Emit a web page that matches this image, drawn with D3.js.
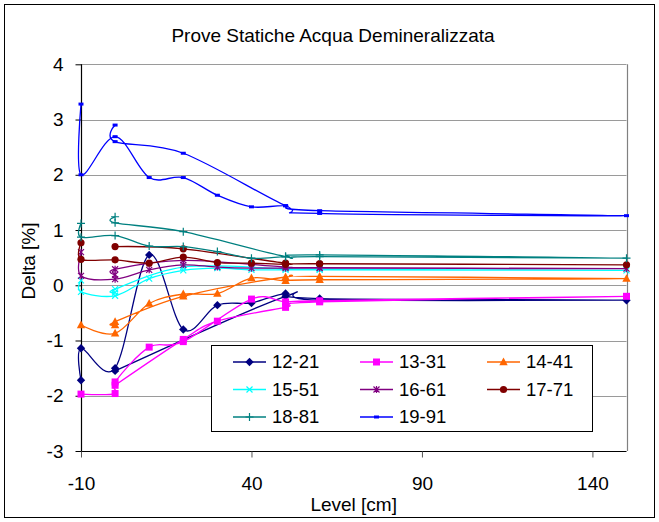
<!DOCTYPE html>
<html><head><meta charset="utf-8">
<script src="https://cdn.jsdelivr.net/npm/d3@7"></script>
<style>
body{margin:0;background:#fff}
svg{display:block}
text{font-family:"Liberation Sans",Arial,sans-serif;fill:#000}
</style>
</head><body>
<svg id="chart" width="659" height="522"></svg>
<script>
// ---------- data ----------
const chartTitle = "Prove Statiche Acqua Demineralizzata";
const xTitle = "Level [cm]";
const yTitle = "Delta [%]";
const xTicks = [-10, 40, 90, 140];
const yTicks = [-3, -2, -1, 0, 1, 2, 3, 4];
const seriesNames = ["12-21", "13-31", "14-41", "15-51", "16-61", "17-71", "18-81", "19-91"];

const level_1221 = [-10, -10, 0, 10, 20, 30, 40, 50, 60, 150, 60, 50, 0];
const delta_1221 = [-1.72, -1.14, -1.5, 0.55, -0.8, -0.36, -0.32, -0.15, -0.24, -0.27, -0.27, -0.2, -1.55];

const level_1331 = [-10, 0, 0, 10, 20, 40, 50, 60, 150, 60, 50, 30, 20, 0];
const delta_1331 = [-1.97, -1.96, -1.75, -1.12, -1.02, -0.25, -0.3, -0.28, -0.2, -0.3, -0.4, -0.65, -0.98, -1.81];

const level_1441 = [-10, 0, 10, 20, 30, 40, 50, 60, 150, 60, 50, 20, 0, 0];
const delta_1441 = [-0.72, -0.87, -0.33, -0.16, -0.15, 0.13, 0.08, 0.1, 0.12, 0.16, 0.15, -0.2, -0.66, -0.72];

const level_1551 = [-10, -10, 0, 10, 20, 30, 40, 50, 60, 150, 60, 50, 20, 0, 0];
const delta_1551 = [0.09, -0.12, -0.19, 0.12, 0.27, 0.31, 0.28, 0.28, 0.28, 0.27, 0.29, 0.3, 0.33, -0.07, -0.13];

const level_1661 = [-10, -10, 0, 10, 20, 30, 40, 50, 60, 150, 60, 50, 20, 0, 0];
const delta_1661 = [0.6, 0.17, 0.11, 0.28, 0.37, 0.33, 0.31, 0.31, 0.31, 0.3, 0.32, 0.33, 0.45, 0.29, 0.19];

const level_1771 = [-10, -10, 0, 10, 20, 30, 40, 50, 60, 150, 60, 50, 20, 0];
const delta_1771 = [0.77, 0.47, 0.46, 0.4, 0.51, 0.41, 0.4, 0.38, 0.39, 0.37, 0.39, 0.4, 0.66, 0.7];

const level_1881 = [-10, -10, 0, 10, 20, 30, 40, 50, 60, 150, 60, 50, 20, 0, 0];
const delta_1881 = [1.12, 0.87, 0.9, 0.71, 0.7, 0.61, 0.49, 0.52, 0.55, 0.49, 0.52, 0.52, 0.97, 1.13, 1.24];

const level_1991 = [-10, -10, 0, 10, 20, 30, 40, 50, 60, 150, 60, 50, 20, 0, 0];
const delta_1991 = [3.28, 2.0, 2.69, 1.95, 1.95, 1.63, 1.42, 1.44, 1.35, 1.26, 1.3, 1.44, 2.39, 2.6, 2.9];

const seriesLevels = [level_1221, level_1331, level_1441, level_1551, level_1661, level_1771, level_1881, level_1991];
const seriesDeltas = [delta_1221, delta_1331, delta_1441, delta_1551, delta_1661, delta_1771, delta_1881, delta_1991];
const seriesColors = ["#000080", "#FF00FF", "#FF6600", "#00FFFF", "#800080", "#800000", "#008080", "#0000FF"];
const seriesMarkers = ["diamond", "square", "triangle", "cross", "star", "circle", "plus", "dash"];

// ---------- layout ----------
const svg = d3.select("#chart");
const x = d3.scaleLinear().domain([-10, 150]).range([81, 626.5]);
const y = d3.scaleLinear().domain([-3, 4]).range([451, 64.3]);
const FONT = 19;

svg.append("rect").attr("x", 4.5).attr("y", 4.5).attr("width", 650).attr("height", 513)
  .attr("fill", "#fff").attr("stroke", "#000").attr("stroke-width", 1);

// gridlines
svg.append("g").selectAll("line").data(yTicks.filter(v => v > -3)).join("line")
  .attr("x1", x(-10)).attr("x2", x(150))
  .attr("y1", d => Math.round(y(d)) + 0.5).attr("y2", d => Math.round(y(d)) + 0.5)
  .attr("stroke", "#9a9a9a").attr("stroke-width", 1.2);
// right border
svg.append("line").attr("x1", Math.round(x(150)) + 0.5).attr("x2", Math.round(x(150)) + 0.5)
  .attr("y1", y(4)).attr("y2", y(-3)).attr("stroke", "#808080").attr("stroke-width", 1.2);

// axes
const fmt = d => String(d);
const yAxis = d3.axisLeft(y).tickValues(yTicks).tickSize(6).tickPadding(12).tickFormat(fmt);
const gy = svg.append("g").attr("transform", `translate(${Math.round(x(-10)) + 0.5},0)`).call(yAxis);
const xAxis = d3.axisBottom(x).tickValues(xTicks).tickSize(6).tickPadding(19).tickFormat(fmt);
const gx = svg.append("g").attr("transform", `translate(0,${Math.round(y(-3)) + 0.5})`).call(xAxis);
[gx, gy].forEach(g => {
  g.select(".domain").attr("stroke", "#000").attr("stroke-width", 1.2);
  g.selectAll(".tick line").attr("stroke", "#000");
  g.selectAll(".tick text").attr("font-size", FONT).attr("font-family", '"Liberation Sans",Arial,sans-serif').attr("fill", "#000");
});
gx.selectAll(".tick line").attr("stroke", "#555");
gx.select(".domain").attr("d", `M${x(-10)},0H${x(150)}`);
gy.select(".domain").attr("d", `M0,${y(4)}V${y(-3)}`);

// titles
svg.append("text").attr("x", 333).attr("y", 42).attr("text-anchor", "middle").attr("font-size", FONT).text(chartTitle);
svg.append("text").attr("x", 353.7).attr("y", 511).attr("text-anchor", "middle").attr("font-size", FONT).text(xTitle);
svg.append("text").attr("transform", "translate(35,261) rotate(-90)").attr("text-anchor", "middle").attr("font-size", FONT).text(yTitle);

// markers
function markerPath(type) {
  const p = d3.path();
  switch (type) {
    case "diamond": p.moveTo(0, -4.2); p.lineTo(4.2, 0); p.lineTo(0, 4.2); p.lineTo(-4.2, 0); p.closePath(); break;
    case "square": p.rect(-3.5, -3.5, 7, 7); break;
    case "triangle": p.moveTo(0, -4.5); p.lineTo(4.2, 3.2); p.lineTo(-4.2, 3.2); p.closePath(); break;
    case "circle": p.arc(0, 0, 3.6, 0, 2 * Math.PI); break;
    case "cross": p.moveTo(-3, -3); p.lineTo(3, 3); p.moveTo(3, -3); p.lineTo(-3, 3); break;
    case "star": p.moveTo(-3, -3); p.lineTo(3, 3); p.moveTo(3, -3); p.lineTo(-3, 3); p.moveTo(0, -3.5); p.lineTo(0, 3.5); break;
    case "plus": p.moveTo(-4, 0); p.lineTo(4, 0); p.moveTo(0, -4); p.lineTo(0, 4); break;
    case "dash": p.rect(-2.5, -1.5, 5, 3); break;
  }
  return p.toString();
}
const filled = t => ["diamond", "square", "triangle", "circle", "dash"].includes(t);

const line = d3.line().x(d => x(d[0])).y(d => y(d[1])).curve(d3.curveCardinal.tension(0));

seriesNames.forEach((name, i) => {
  const pts = seriesLevels[i].map((lv, k) => [lv, seriesDeltas[i][k]]);
  const g = svg.append("g");
  g.append("path").attr("d", line(pts)).attr("fill", "none")
    .attr("stroke", seriesColors[i]).attr("stroke-width", 1.3);
  g.selectAll("path.m").data(pts).join("path").attr("class", "m")
    .attr("transform", d => `translate(${x(d[0])},${y(d[1])})`)
    .attr("d", markerPath(seriesMarkers[i]))
    .attr("fill", filled(seriesMarkers[i]) ? seriesColors[i] : "none")
    .attr("stroke", seriesColors[i]).attr("stroke-width", filled(seriesMarkers[i]) ? 0 : 1.2);
});

// legend
const lg = svg.append("g");
lg.append("rect").attr("x", 211.5).attr("y", 345.5).attr("width", 381).attr("height", 86)
  .attr("fill", "#fff").attr("stroke", "#000").attr("stroke-width", 1);
const colX = [233, 360, 487];
const rowY = [362, 389.5, 417];
seriesNames.forEach((name, i) => {
  const cx = colX[i % 3], cy = rowY[Math.floor(i / 3)];
  lg.append("line").attr("x1", cx).attr("x2", cx + 33).attr("y1", cy).attr("y2", cy)
    .attr("stroke", seriesColors[i]).attr("stroke-width", 1.3);
  lg.append("path").attr("transform", `translate(${cx + 16.5},${cy})`).attr("d", markerPath(seriesMarkers[i]))
    .attr("fill", filled(seriesMarkers[i]) ? seriesColors[i] : "none")
    .attr("stroke", seriesColors[i]).attr("stroke-width", filled(seriesMarkers[i]) ? 0 : 1.2);
  lg.append("text").attr("x", cx + 39).attr("y", cy).attr("dy", "0.35em").attr("font-size", 18.5).text(name);
});
</script>
</body></html>
